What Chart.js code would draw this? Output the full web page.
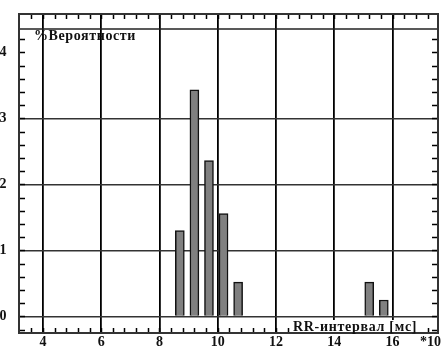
<!DOCTYPE html>
<html>
<head>
<meta charset="utf-8">
<script src="https://cdn.jsdelivr.net/npm/chart.js@4"></script>
<style>
  html, body { margin: 0; padding: 0; background: #fff; }
  canvas { display: block; }
</style>
</head>
<body>
<canvas id="rrChart" width="441" height="350"></canvas>
<script>
// центры интервалов гистограммы (x100 мс) и вероятность, %
const binCenters = [8.7, 9.2, 9.7, 10.2, 10.7, 15.2, 15.7];
const probability = [1.30, 3.43, 2.36, 1.56, 0.52, 0.52, 0.25];

const xTickValues = [4, 6, 8, 10, 12, 14, 16];
const xTickLabels = ['4', '6', '8', '10', '12', '14', '16'];
const yTickValues = [0, 1, 2, 3, 4];
const yTickLabels = ['0', '1', '2', '3', '4'];
const yGridValues = [0, 1, 2, 3];

const yTitle = '%Вероятности';
const xTitle = 'RR-интервал [мс]';
const xScaleNote = '*10';

const serif = '"Liberation Serif", "DejaVu Serif", serif';

// рамка, насечки и подписи как в старой программе
const framePlugin = {
    id: 'frame',
    afterDraw(chart) {
        const ctx = chart.ctx;
        const area = chart.chartArea;
        const xs = chart.scales.x;
        const ys = chart.scales.y;
        ctx.save();

        // полоса насечек сверху
        ctx.strokeStyle = '#222';
        ctx.lineWidth = 1.5;
        ctx.beginPath();
        ctx.moveTo(area.left, area.top + 15);
        ctx.lineTo(area.right, area.top + 15);
        ctx.stroke();

        // мелкие насечки по x
        ctx.strokeStyle = '#000';
        ctx.lineWidth = 1.5;
        ctx.beginPath();
        for (let v = 3.6; v < xs.max; v += 0.4) {
            const px = Math.round(xs.getPixelForValue(v)) + 0.5;
            ctx.moveTo(px, area.top);
            ctx.lineTo(px, area.top + 5);
            ctx.moveTo(px, area.bottom);
            ctx.lineTo(px, area.bottom - 5);
        }
        // мелкие насечки по y
        for (let v = -0.2; v < 4.3; v += 0.2) {
            const py = Math.round(ys.getPixelForValue(v)) + 0.5;
            ctx.moveTo(area.left, py);
            ctx.lineTo(area.left + 6, py);
            ctx.moveTo(area.right, py);
            ctx.lineTo(area.right - 6, py);
        }
        ctx.stroke();

        // рамка
        ctx.lineWidth = 2;
        ctx.strokeStyle = '#333';
        ctx.strokeRect(area.left, area.top, area.right - area.left, area.bottom - area.top);

        // подписи осей
        ctx.fillStyle = '#111';
        ctx.font = 'bold 14px ' + serif;
        ctx.textBaseline = 'middle';
        ctx.textAlign = 'center';
        xTickValues.forEach((v, i) => {
            ctx.fillText(xTickLabels[i], xs.getPixelForValue(v), area.bottom + 9);
        });
        ctx.textAlign = 'right';
        ctx.fillText(xScaleNote, 441, area.bottom + 9);
        ctx.textAlign = 'center';
        yTickValues.forEach((v, i) => {
            ctx.fillText(yTickLabels[i], 3, ys.getPixelForValue(v));
        });

        // заголовки
        ctx.textAlign = 'left';
        ctx.textBaseline = 'alphabetic';
        ctx.font = 'bold 14px ' + serif;
        ctx.letterSpacing = '0.6px';
        ctx.fillText(yTitle, 34, 40);
        ctx.letterSpacing = '0.7px';
        const w = ctx.measureText(xTitle).width;
        ctx.fillStyle = '#fff';
        ctx.fillRect(292, 320, w + 2, 12);
        ctx.fillStyle = '#111';
        ctx.fillText(xTitle, 293, 331);
        ctx.restore();
    }
};

const ctx = document.getElementById('rrChart').getContext('2d');
const chart = new Chart(ctx, {
    type: 'bar',
    data: {
        datasets: [{
            data: binCenters.map((x, i) => ({ x: x, y: probability[i] })),
            backgroundColor: '#808080',
            borderColor: '#111',
            borderWidth: 1.5,
            barThickness: 9
        }]
    },
    options: {
        responsive: false,
        animation: false,
        devicePixelRatio: 1,
        layout: { padding: { left: 19, top: 14, right: 3, bottom: 17 } },
        plugins: {
            legend: { display: false },
            tooltip: { enabled: false }
        },
        scales: {
            x: {
                type: 'linear',
                min: 3.18,
                max: 17.56,
                offset: false,
                ticks: { display: false },
                border: { display: false },
                grid: { color: '#000', lineWidth: 1.8, drawTicks: false, offset: false },
                afterBuildTicks: s => { s.ticks = xTickValues.map(v => ({ value: v })); }
            },
            y: {
                min: -0.25,
                max: 4.58,
                ticks: { display: false },
                border: { display: false },
                grid: { color: '#333', lineWidth: 1.5, drawTicks: false },
                afterBuildTicks: s => { s.ticks = yGridValues.map(v => ({ value: v })); }
            }
        }
    },
    plugins: [framePlugin]
});
</script>
</body>
</html>
